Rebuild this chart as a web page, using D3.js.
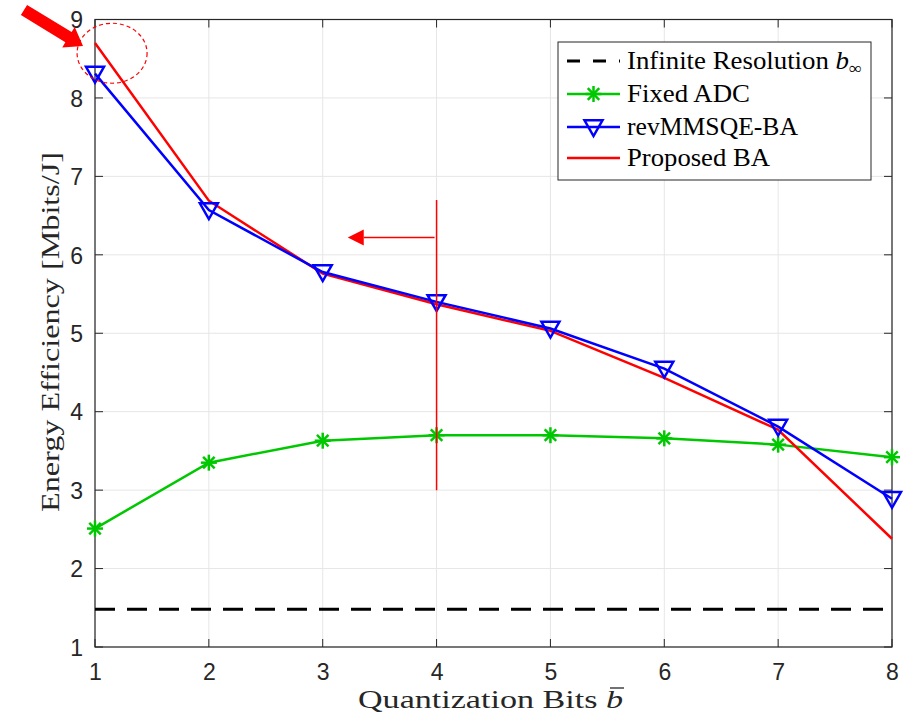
<!DOCTYPE html>
<html><head><meta charset="utf-8">
<script src="https://cdn.jsdelivr.net/npm/d3@7"></script>
<style>body{margin:0;background:#fff}</style>
</head><body>
<svg id="c" width="910" height="724"></svg>
<script>
const bits = [1,2,3,4,5,6,7,8];
const infiniteRes = [1.48,1.48,1.48,1.48,1.48,1.48,1.48,1.48];
const fixedADC = [2.51,3.35,3.63,3.70,3.70,3.66,3.58,3.42];
const revMMSQE = [8.31,6.57,5.78,5.40,5.06,4.55,3.81,2.89];
const proposed = [8.70,6.69,5.76,5.37,5.03,4.43,3.77,2.38];
const xTicks = [1,2,3,4,5,6,7,8];
const yTicks = [1,2,3,4,5,6,7,8,9];
const legendLabels = ["Infinite Resolution", "Fixed ADC", "revMMSQE-BA", "Proposed BA"];

const svg = d3.select("#c");
const L=95, R=892, T=19.5, B=647;
const x = d3.scaleLinear().domain([1,8]).range([L,R]);
const y = d3.scaleLinear().domain([1,9]).range([B,T]);
const tickFont = "'Liberation Sans', Arial, sans-serif";
const serif = "'Liberation Serif', 'Times New Roman', serif";

// grid
const g = svg.append("g");
g.selectAll(".gx").data(xTicks).enter().append("line")
  .attr("x1",d=>x(d)).attr("x2",d=>x(d)).attr("y1",T).attr("y2",B)
  .attr("stroke","#e6e6e6").attr("stroke-width",1);
g.selectAll(".gy").data(yTicks).enter().append("line")
  .attr("x1",L).attr("x2",R).attr("y1",d=>y(d)).attr("y2",d=>y(d))
  .attr("stroke","#e6e6e6").attr("stroke-width",1);

// axes
const ax = svg.append("g").attr("transform",`translate(0,${B})`)
  .call(d3.axisBottom(x).tickValues(xTicks).tickSize(0).tickPadding(16).tickFormat(d3.format("d")));
const ay = svg.append("g").attr("transform",`translate(${L},0)`)
  .call(d3.axisLeft(y).tickValues(yTicks).tickSize(0).tickPadding(12).tickFormat(d3.format("d")));
[ax,ay].forEach(a=>{a.select(".domain").remove();
  a.selectAll("text").attr("font-family",tickFont).attr("font-size",23).attr("fill","#262626");});
ax.selectAll("text").attr("dy","0.75em");
ay.selectAll("text").attr("dy","0.36em");

// inward ticks
const tk = svg.append("g").attr("stroke","#262626").attr("stroke-width",1);
xTicks.forEach(d=>{
  tk.append("line").attr("x1",x(d)).attr("x2",x(d)).attr("y1",B).attr("y2",B-8);
  tk.append("line").attr("x1",x(d)).attr("x2",x(d)).attr("y1",T).attr("y2",T+8);
});
yTicks.forEach(d=>{
  tk.append("line").attr("x1",L).attr("x2",L+8).attr("y1",y(d)).attr("y2",y(d));
  tk.append("line").attr("x1",R).attr("x2",R-8).attr("y1",y(d)).attr("y2",y(d));
});
svg.append("rect").attr("x",L).attr("y",T).attr("width",R-L).attr("height",B-T)
  .attr("fill","none").attr("stroke","#262626").attr("stroke-width",1.2);

const line = d3.line().x((d,i)=>x(bits[i])).y(d=>y(d));

// infinite
svg.append("path").datum(infiniteRes).attr("d",line).attr("fill","none")
  .attr("stroke","#000").attr("stroke-width",3).attr("stroke-dasharray","20,12");

// fixed ADC
svg.append("path").datum(fixedADC).attr("d",line).attr("fill","none")
  .attr("stroke","#00c800").attr("stroke-width",2.5);
function star(sel, cx, cy, r, col){
  const gg = sel.append("g").attr("stroke",col).attr("stroke-width",2.5);
  gg.append("line").attr("x1",cx-r).attr("x2",cx+r).attr("y1",cy).attr("y2",cy);
  gg.append("line").attr("x1",cx).attr("x2",cx).attr("y1",cy-r).attr("y2",cy+r);
  const k=r*0.72;
  gg.append("line").attr("x1",cx-k).attr("x2",cx+k).attr("y1",cy-k).attr("y2",cy+k);
  gg.append("line").attr("x1",cx-k).attr("x2",cx+k).attr("y1",cy+k).attr("y2",cy-k);
}
fixedADC.forEach((v,i)=>star(svg,x(bits[i]),y(v),8,"#00c800"));

svg.append("path").datum(proposed).attr("d",line).attr("fill","none")
  .attr("stroke","#ff0000").attr("stroke-width",2.5);

svg.append("path").datum(revMMSQE).attr("d",line).attr("fill","none")
  .attr("stroke","#0000ff").attr("stroke-width",2.5);
function tri(sel,cx,cy,s,col){
  sel.append("path").attr("d",`M${cx-s},${cy-s*0.75}L${cx+s},${cy-s*0.75}L${cx},${cy+s}Z`)
    .attr("fill","none").attr("stroke",col).attr("stroke-width",2.5);
}
revMMSQE.forEach((v,i)=>tri(svg,x(bits[i]),y(v),9,"#0000ff"));

// annotations
const red="#ff0000";
svg.append("ellipse").attr("cx",x(1.15)).attr("cy",y(8.57)).attr("rx",35).attr("ry",30)
  .attr("fill","none").attr("stroke",red).attr("stroke-width",1.2).attr("stroke-dasharray","4,3");
svg.append("line").attr("x1",x(4)).attr("x2",x(4)).attr("y1",y(6.7)).attr("y2",y(3.0))
  .attr("stroke",red).attr("stroke-width",1.5);
svg.append("line").attr("x1",x(4)-2).attr("x2",x(3.36)).attr("y1",y(6.22)).attr("y2",y(6.22))
  .attr("stroke",red).attr("stroke-width",1.5);
{
  const ty=y(6.22), tx=x(3.22);
  svg.append("path").attr("d",`M${tx},${ty}L${tx+16},${ty-8}L${tx+16},${ty+8}Z`).attr("fill",red);
}
// big arrow top-left
{
  const x0=24,y0=10, x1=83,y1=46;
  const ang=Math.atan2(y1-y0,x1-x0), ca=Math.cos(ang), sa=Math.sin(ang);
  const hl=17, hw=12, bw=6;
  const P=(a,b)=>[x0+a*ca-b*sa, y0+a*sa+b*ca];
  const len=Math.hypot(x1-x0,y1-y0);
  const pts=[P(0,-bw),P(len-hl,-bw),P(len-hl,-hw),P(len,0),P(len-hl,hw),P(len-hl,bw),P(0,bw)];
  svg.append("path").attr("d","M"+pts.map(p=>p.join(",")).join("L")+"Z").attr("fill",red);
}

// labels
svg.append("text").attr("x",358).attr("y",708).attr("text-anchor","start")
  .attr("font-family",serif).attr("font-size",25).attr("fill","#262626")
  .attr("textLength",265).attr("lengthAdjust","spacingAndGlyphs")
  .html('Quantization Bits <tspan font-style="italic" id="bb">b</tspan>');
{
  const bb = document.getElementById("bb");
  const tEl = bb.parentNode;
  const n = tEl.getNumberOfChars();
  const ext = tEl.getExtentOfChar(n-1);
  svg.append("line").attr("x1",ext.x+4).attr("x2",ext.x+ext.width+1)
    .attr("y1",ext.y+2).attr("y2",ext.y+2).attr("stroke","#262626").attr("stroke-width",1.3);
}
svg.append("text").attr("transform",`translate(59,512) rotate(-90)`)
  .attr("text-anchor","start").attr("font-family",serif).attr("font-size",26).attr("fill","#262626")
  .attr("textLength",360).attr("lengthAdjust","spacingAndGlyphs")
  .text("Energy Efficiency [Mbits/J]");

// legend
const lg = svg.append("g");
lg.append("rect").attr("x",558).attr("y",42).attr("width",313).attr("height",138)
  .attr("fill","#fff").attr("stroke","#262626").attr("stroke-width",1);
const ly=[61,94,127,158];
const lw=[235,123,171,143];
const lx0=567, lx1=620;
lg.append("line").attr("x1",lx0).attr("x2",lx1).attr("y1",ly[0]).attr("y2",ly[0])
  .attr("stroke","#000").attr("stroke-width",3).attr("stroke-dasharray","13,13");
lg.append("line").attr("x1",lx0).attr("x2",lx1).attr("y1",ly[1]).attr("y2",ly[1])
  .attr("stroke","#00c800").attr("stroke-width",2.5);
star(lg,(lx0+lx1)/2,ly[1],8,"#00c800");
lg.append("line").attr("x1",lx0).attr("x2",lx1).attr("y1",ly[2]).attr("y2",ly[2])
  .attr("stroke","#0000ff").attr("stroke-width",2.5);
tri(lg,(lx0+lx1)/2,ly[2],9,"#0000ff");
lg.append("line").attr("x1",lx0).attr("x2",lx1).attr("y1",ly[3]).attr("y2",ly[3])
  .attr("stroke","#ff0000").attr("stroke-width",2.5);
legendLabels.forEach((t,i)=>{
  const tx = lg.append("text").attr("x",627).attr("y",ly[i]+8)
    .attr("font-family",serif).attr("font-size",25).attr("fill","#000")
    .attr("textLength",lw[i]).attr("lengthAdjust","spacingAndGlyphs");
  tx.append("tspan").text(t);
  if(i===0){
    tx.append("tspan").attr("font-style","italic").text(" b");
    tx.append("tspan").attr("font-size",17).attr("dy","5").text("∞");
  }
});
</script>
</body></html>
